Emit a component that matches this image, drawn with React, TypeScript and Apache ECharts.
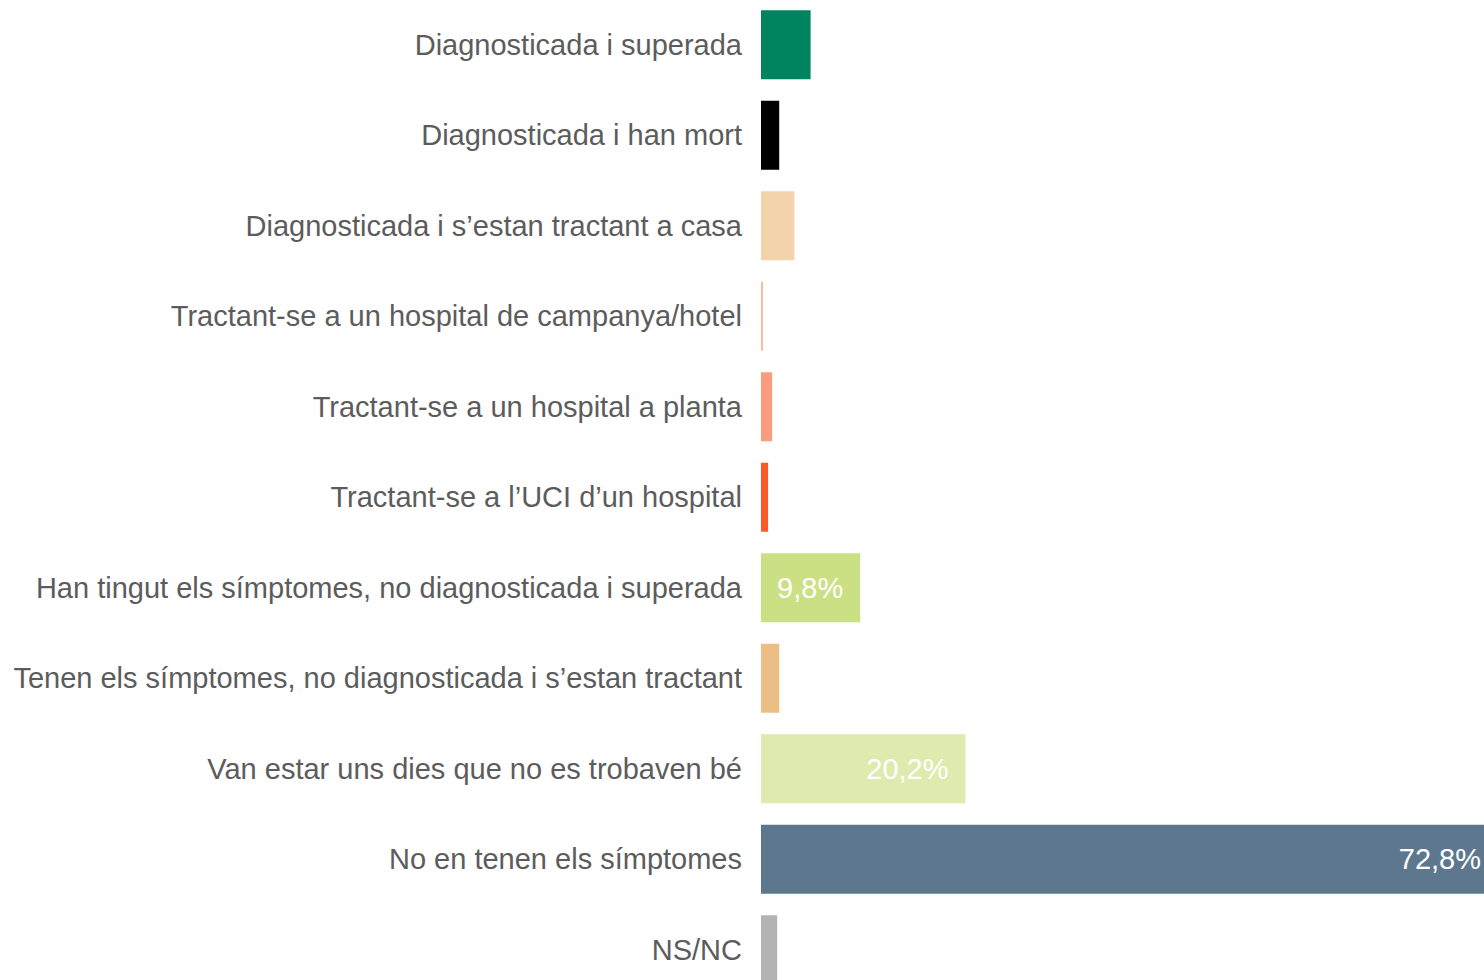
import React, { useEffect, useRef } from "react";
import * as echarts from "echarts";

const categories = [
  "Diagnosticada i superada",
  "Diagnosticada i han mort",
  "Diagnosticada i s’estan tractant a casa",
  "Tractant-se a un hospital de campanya/hotel",
  "Tractant-se a un hospital a planta",
  "Tractant-se a l’UCI d’un hospital",
  "Han tingut els símptomes, no diagnosticada i superada",
  "Tenen els símptomes, no diagnosticada i s’estan tractant",
  "Van estar uns dies que no es trobaven bé",
  "No en tenen els símptomes",
  "NS/NC",
];
const values = [4.9, 1.8, 3.3, 0.2, 1.1, 0.7, 9.8, 1.8, 20.2, 72.8, 1.6];
const colors = [
  "#00845F",
  "#000000",
  "#F2D3AC",
  "#F8BCA6",
  "#FC9C7E",
  "#FA5B2A",
  "#CBE084",
  "#ECBE85",
  "#DDEBAE",
  "#5D788E",
  "#B3B3B3",
];
const labelled = [false, false, false, false, false, false, true, false, true, true, false];

export default function App() {
  const ref = useRef<HTMLDivElement>(null);
  useEffect(() => {
    if (!ref.current) return;
    const chart = echarts.init(ref.current, null, { renderer: "svg" });
    chart.setOption({
      animation: false,
      backgroundColor: "#ffffff",
      grid: {
        left: 761,
        top: -0.5,
        width: 737,
        height: 995.5,
        outerBoundsMode: "none",
        containLabel: false,
      },
      xAxis: {
        type: "value",
        min: 0,
        max: 72.8,
        show: false,
      },
      yAxis: {
        type: "category",
        inverse: true,
        data: categories,
        axisLine: { show: false },
        axisTick: { show: false },
        axisLabel: {
          margin: 19,
          color: "#5c5c5c",
          fontSize: 29,
          fontFamily: "Liberation Sans, Arial, sans-serif",
        },
      },
      series: [
        {
          type: "bar",
          barWidth: 69,
          clip: false,
          data: values.map((v, i) => ({
            value: v,
            itemStyle: { color: colors[i] },
            label: {
              show: labelled[i],
              position: "insideRight",
              distance: 17,
              color: "#ffffff",
              fontSize: 29,
              fontFamily: "Liberation Sans, Arial, sans-serif",
              formatter: (p: any) => String(p.value).replace(".", ",") + "%",
            },
          })),
        },
      ],
    });
    return () => chart.dispose();
  }, []);
  return (
    <div
      ref={ref}
      style={{ position: "absolute", left: 0, top: 0, width: 1484, height: 980 }}
    />
  );
}
